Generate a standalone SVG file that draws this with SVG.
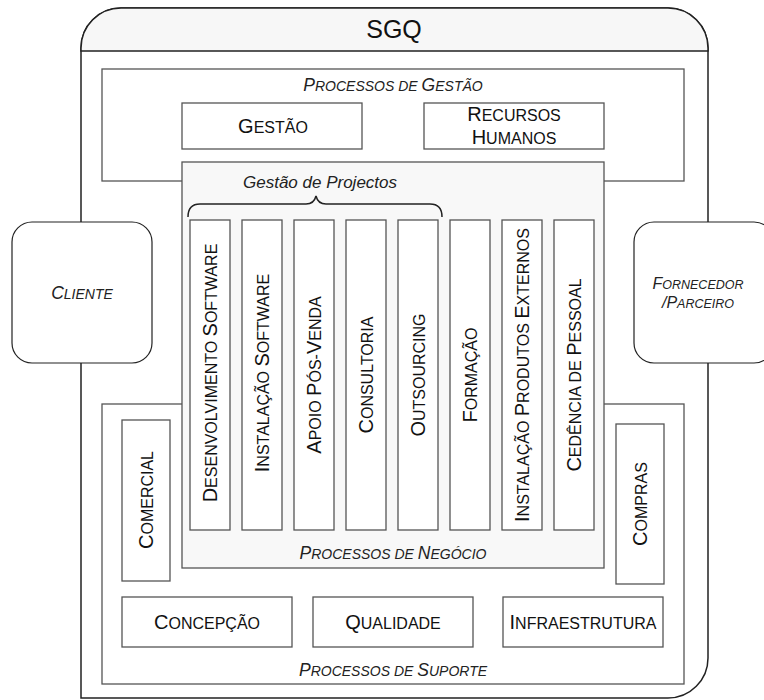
<svg xmlns="http://www.w3.org/2000/svg" width="764" height="700" viewBox="0 0 764 700">
<style>
.box{fill:#fff;stroke:#555;stroke-width:1.3}
.grp{fill:#fff;stroke:#555;stroke-width:1.3}
.neg{fill:#f8f8f8;stroke:#555;stroke-width:1.3}
.ext{fill:#fff;stroke:#222;stroke-width:1.2}
.t{font-family:"Liberation Sans",Arial,sans-serif;font-size:16px;fill:#111;text-anchor:middle}
.t .B{font-size:20px}
.ti{font-family:"Liberation Sans",Arial,sans-serif;font-size:14px;font-style:italic;fill:#222;text-anchor:middle}
.ti .B{font-size:17.5px}
.ti.s{font-size:12.5px}
.ti.s .B{font-size:16px}
</style>
<g id="sgq">
<path d="M81,698 L81,48 A40,40 0 0 1 121,8 L668,8 A40,40 0 0 1 708,48 L708,658 A40,40 0 0 1 668,698 Z" fill="#fff" stroke="#222" stroke-width="1.5"/>
<path d="M81,51 L81,48 A40,40 0 0 1 121,8 L668,8 A40,40 0 0 1 708,48 L708,51 Z" fill="#f7f7f7" stroke="#222" stroke-width="1.5"/>
<text x="394" y="38" font-family="'Liberation Sans',Arial,sans-serif" font-size="25" text-anchor="middle" fill="#111">SGQ</text>
</g>
<g id="cliente">
<rect class="ext" x="12" y="222" width="140" height="141" rx="20"/>
<text class="ti" x="82" y="299"><tspan class="B">C</tspan>LIENTE</text>
</g>
<g id="fornecedor">
<rect class="ext" x="634" y="222" width="140" height="141" rx="20"/>
<text class="ti s" x="698" y="289"><tspan class="B">F</tspan>ORNECEDOR</text>
<text class="ti s" x="698" y="308"><tspan class="B">/P</tspan>ARCEIRO</text>
</g>
<g id="processos-gestao">
<rect class="grp" x="102" y="69" width="582" height="112"/>
<text class="ti" x="393" y="91"><tspan class="B">P</tspan>ROCESSOS DE <tspan class="B">G</tspan>ESTÃO</text>
</g>
<g id="gestao">
<rect class="box" x="182" y="103" width="180" height="46"/>
<text class="t" x="273" y="133"><tspan class="B">G</tspan>ESTÃO</text>
</g>
<g id="recursos-humanos">
<rect class="box" x="424" y="103" width="180" height="46"/>
<text class="t" x="514" y="121"><tspan class="B">R</tspan>ECURSOS</text>
<text class="t" x="514" y="144"><tspan class="B">H</tspan>UMANOS</text>
</g>
<g id="processos-suporte">
<rect class="grp" x="102" y="404" width="582" height="280"/>
<text class="ti" x="393" y="676"><tspan class="B">P</tspan>ROCESSOS DE <tspan class="B">S</tspan>UPORTE</text>
</g>
<g id="comercial">
<rect class="box" x="122" y="420" width="48" height="161"/>
<text class="t" transform="translate(153,500) rotate(-90)"><tspan class="B">C</tspan>OMERCIAL</text>
</g>
<g id="compras">
<rect class="box" x="616" y="424" width="48" height="160"/>
<text class="t" transform="translate(647,504) rotate(-90)"><tspan class="B">C</tspan>OMPRAS</text>
</g>
<g id="concepcao">
<rect class="box" x="122" y="597" width="170" height="50"/>
<text class="t" x="207" y="629"><tspan class="B">C</tspan>ONCEPÇÃO</text>
</g>
<g id="qualidade">
<rect class="box" x="313" y="597" width="160" height="50"/>
<text class="t" x="393" y="629"><tspan class="B">Q</tspan>UALIDADE</text>
</g>
<g id="infraestrutura">
<rect class="box" x="503" y="597" width="160" height="50"/>
<text class="t" x="583" y="629"><tspan class="B">I</tspan>NFRAESTRUTURA</text>
</g>
<g id="processos-negocio">
<rect class="neg" x="182" y="162" width="422" height="406"/>
<text class="ti" x="393" y="559"><tspan class="B">P</tspan>ROCESSOS DE <tspan class="B">N</tspan>EGÓCIO</text>
<text x="320" y="188" font-family="'Liberation Sans',Arial,sans-serif" font-size="17" font-style="italic" fill="#222" text-anchor="middle">Gestão de Projectos</text>
</g>
<g id="connectors">
<path d="M188,217 Q188,204 200,204 L306,204 Q314,204 316,196 Q318,204 326,204 L430,204 Q442,204 442,217" fill="none" stroke="#222" stroke-width="1.5"/>
</g>
<g id="desenvolvimento-software">
<rect class="box" x="190" y="220" width="40" height="310"/>
<text class="t" transform="translate(217,373) rotate(-90)"><tspan class="B">D</tspan>ESENVOLVIMENTO <tspan class="B">S</tspan>OFTWARE</text>
</g>
<g id="instalacao-software">
<rect class="box" x="242" y="220" width="40" height="310"/>
<text class="t" transform="translate(269,373) rotate(-90)"><tspan class="B">I</tspan>NSTALAÇÃO <tspan class="B">S</tspan>OFTWARE</text>
</g>
<g id="apoio-pos-venda">
<rect class="box" x="294" y="220" width="40" height="310"/>
<text class="t" transform="translate(321,375) rotate(-90)"><tspan class="B">A</tspan>POIO <tspan class="B">P</tspan>ÓS-<tspan class="B">V</tspan>ENDA</text>
</g>
<g id="consultoria">
<rect class="box" x="346" y="220" width="40" height="310"/>
<text class="t" transform="translate(373,375) rotate(-90)"><tspan class="B">C</tspan>ONSULTORIA</text>
</g>
<g id="outsourcing">
<rect class="box" x="398" y="220" width="40" height="310"/>
<text class="t" transform="translate(425,375) rotate(-90)"><tspan class="B">O</tspan>UTSOURCING</text>
</g>
<g id="formacao">
<rect class="box" x="450" y="220" width="40" height="310"/>
<text class="t" transform="translate(477,375) rotate(-90)"><tspan class="B">F</tspan>ORMAÇÃO</text>
</g>
<g id="instalacao-produtos-externos">
<rect class="box" x="502" y="220" width="40" height="310"/>
<text class="t" transform="translate(529,375) rotate(-90)"><tspan class="B">I</tspan>NSTALAÇÃO <tspan class="B">P</tspan>RODUTOS <tspan class="B">E</tspan>XTERNOS</text>
</g>
<g id="cedencia-pessoal">
<rect class="box" x="554" y="220" width="40" height="310"/>
<text class="t" transform="translate(581,375) rotate(-90)"><tspan class="B">C</tspan>EDÊNCIA DE <tspan class="B">P</tspan>ESSOAL</text>
</g>
</svg>
